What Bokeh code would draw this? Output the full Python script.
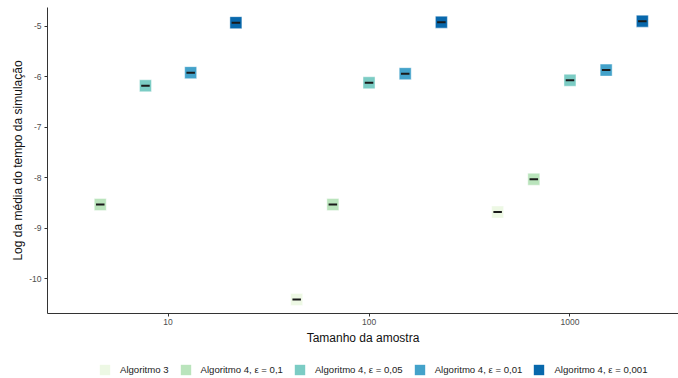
from bokeh.plotting import figure
from bokeh.layouts import column
from bokeh.models import Range1d, Legend, LegendItem, FixedTicker, ColumnDataSource
from bokeh.embed import file_html
from bokeh.resources import INLINE

# ---- data ----
sample_sizes = [10, 100, 1000]
series_names = ["Algoritmo 3", "Algoritmo 4, ε = 0,1", "Algoritmo 4, ε = 0,05",
                "Algoritmo 4, ε = 0,01", "Algoritmo 4, ε = 0,001"]
alg3 = [None, -10.41, -8.68]
alg4_e01 = [-8.53, -8.53, -8.03]
alg4_e005 = [-6.18, -6.12, -6.07]
alg4_e001 = [-5.92, -5.94, -5.87]
alg4_e0001 = [-4.93, -4.92, -4.90]
series_values = [alg3, alg4_e01, alg4_e005, alg4_e001, alg4_e0001]
colors = ["#edf8e4", "#bae4bc", "#7bccc4", "#43a2ca", "#0868ac"]
y_ticks = [-10, -9, -8, -7, -6, -5]
x_ticks = [10, 100, 1000]

FONT = "Liberation Sans"

p = figure(width=678, height=347, x_axis_type="log",
           x_range=Range1d(10 ** 0.4, 10 ** 3.54), y_range=Range1d(-10.689, -4.63),
           output_backend="svg", toolbar_location=None,
           min_border_left=47, min_border_top=7, min_border_right=0, min_border_bottom=32)
p.background_fill_color = "white"
p.border_fill_color = "white"
p.outline_line_color = None
p.xgrid.visible = False
p.ygrid.visible = False

# dodge within each sample-size group (in log10 units)
dodge_width = 0.9
points = {i: {"x": [], "y": []} for i in range(len(series_names))}
for g, n in enumerate(sample_sizes):
    present = [i for i in range(len(series_names)) if series_values[i][g] is not None]
    k = len(present)
    for j, i in enumerate(present):
        off = (j - (k - 1) / 2) * dodge_width / k
        points[i]["x"].append(n * 10 ** off)
        points[i]["y"].append(series_values[i][g])

for i, name in enumerate(series_names):
    src = ColumnDataSource(points[i])
    p.scatter("x", "y", source=src, marker="square", size=12, fill_color=colors[i],
              line_color="white", line_alpha=0.45, line_width=1)
    p.scatter("x", "y", source=src, marker="dash", size=8.5, line_color="#1a1a1a", line_width=2)

for ax in (p.xaxis[0], p.yaxis[0]):
    ax.axis_line_color = "#333333"
    ax.axis_line_width = 1
    ax.major_tick_line_color = "#333333"
    ax.major_tick_out = 3
    ax.major_tick_in = 0
    ax.minor_tick_line_color = None
    ax.major_label_text_font = FONT
    ax.major_label_text_font_size = "8.5px"
    ax.major_label_text_color = "#4d4d4d"
    ax.axis_label_text_font = FONT
    ax.axis_label_text_font_size = "12px"
    ax.axis_label_text_font_style = "normal"
    ax.axis_label_text_color = "#111111"

p.xaxis.ticker = FixedTicker(ticks=x_ticks)
p.xaxis.major_label_overrides = {t: str(t) for t in x_ticks}
p.yaxis.ticker = FixedTicker(ticks=y_ticks)
p.yaxis.major_label_overrides = {t: str(t) for t in y_ticks}
p.xaxis.axis_label = "Tamanho da amostra"
p.yaxis.axis_label = "Log da média do tempo da simulação"
p.xaxis.major_label_standoff = 2
p.xaxis.axis_label_standoff = 3
p.yaxis.major_label_standoff = 3
p.yaxis.axis_label_standoff = 1

# ---- legend strip below the plot (its frame is aligned with the plot frame) ----
lg = figure(width=678, height=31, x_range=Range1d(0, 1), y_range=Range1d(0, 1),
            x_axis_location=None, y_axis_location=None,
            output_backend="svg", toolbar_location=None,
            min_border_left=0, min_border_right=0, min_border_top=0, min_border_bottom=0)
lg.xgrid.visible = False
lg.ygrid.visible = False
lg.outline_line_color = None
lg.background_fill_color = "white"
lg.border_fill_color = "white"

items = []
for i, name in enumerate(series_names):
    # zero-area quad: only used to draw the legend key
    dummy = lg.quad(left=[0], right=[0], top=[0], bottom=[0], fill_color=colors[i],
                    line_color=None)
    items.append(LegendItem(label=name, renderers=[dummy]))

legend = Legend(items=items, orientation="horizontal", location=(51, 2),
                glyph_width=13, glyph_height=13, label_standoff=9, spacing=10,
                padding=0, margin=0, border_line_color=None, background_fill_alpha=0,
                label_text_font=FONT, label_text_font_size="9.6px", label_text_color="#222222",
                label_height=13)
lg.add_layout(legend)

layout = column(p, lg, spacing=0)
open("out.html", "w").write(file_html(layout, INLINE))
